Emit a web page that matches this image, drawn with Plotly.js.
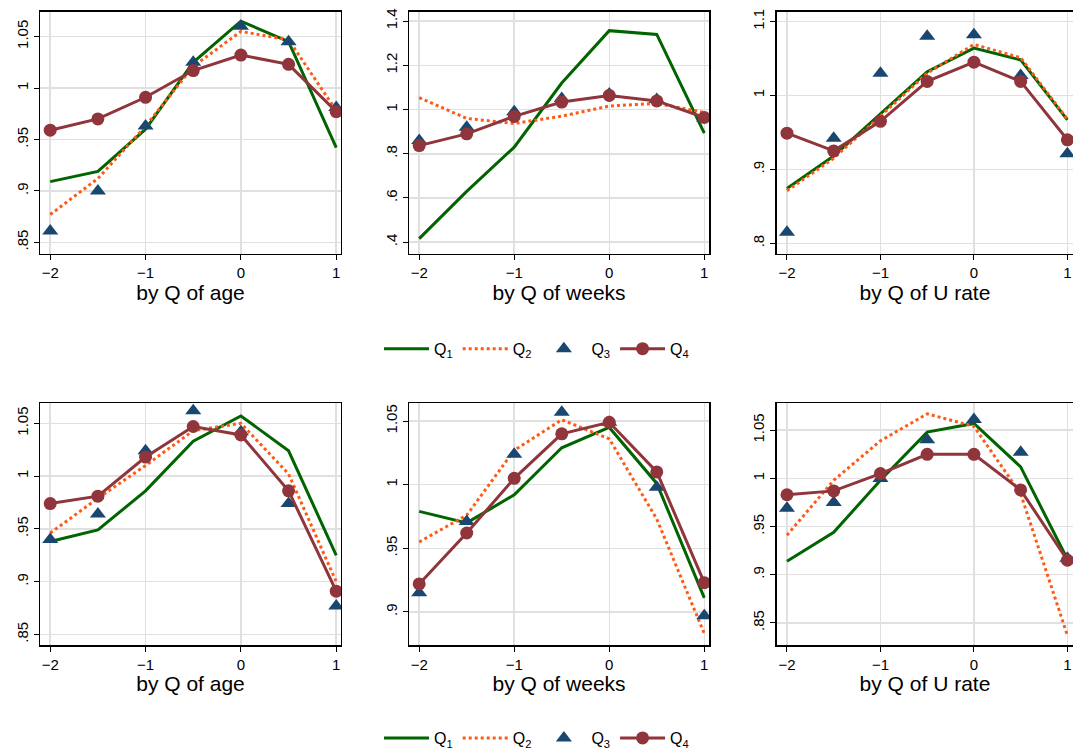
<!DOCTYPE html>
<html><head><meta charset="utf-8">
<script src="https://cdn.plot.ly/plotly-3.0.1.min.js"></script>
<style>body{margin:0;background:#fff}#c{width:1073px;height:755px}</style>
</head><body><div id="c"></div>
<script>
const xs = [-2, -1.5, -1, -0.5, 0, 0.5, 1];
const seriesNames = ['Q<sub>1</sub>', 'Q<sub>2</sub>', 'Q<sub>3</sub>', 'Q<sub>4</sub>'];
const panelTitles = ['by Q of age', 'by Q of weeks', 'by Q of U rate', 'by Q of age', 'by Q of weeks', 'by Q of U rate'];

// top: age
const ageTopQ1 = [0.909, 0.919, 0.960, 1.025, 1.065, 1.045, 0.942];
const ageTopQ2 = [0.877, 0.912, 0.963, 1.021, 1.055, 1.047, 0.978];
const ageTopQ3 = [0.861, 0.900, 0.963, 1.025, 1.060, 1.045, 0.981];
const ageTopQ4 = [0.959, 0.970, 0.991, 1.017, 1.032, 1.023, 0.977];
// top: weeks
const wkTopQ1 = [0.416, 0.63, 0.83, 1.12, 1.357, 1.34, 0.893];
const wkTopQ2 = [1.054, 0.96, 0.937, 0.97, 1.016, 1.028, 0.987];
const wkTopQ3 = [0.86, 0.92, 0.99, 1.05, 1.07, 1.045, 0.96];
const wkTopQ4 = [0.837, 0.89, 0.969, 1.034, 1.064, 1.039, 0.964];
// top: U rate
const urTopQ1 = [0.874, 0.918, 0.975, 1.032, 1.064, 1.048, 0.967];
const urTopQ2 = [0.871, 0.915, 0.972, 1.030, 1.069, 1.051, 0.968];
const urTopQ3 = [0.815, 0.942, 1.030, 1.080, 1.082, 1.027, 0.921];
const urTopQ4 = [0.949, 0.925, 0.965, 1.019, 1.045, 1.019, 0.940];
// bottom: age
const ageBotQ1 = [0.938, 0.949, 0.986, 1.033, 1.057, 1.024, 0.925];
const ageBotQ2 = [0.946, 0.979, 1.010, 1.043, 1.050, 1.002, 0.900];
const ageBotQ3 = [0.940, 0.964, 1.024, 1.062, 1.042, 0.974, 0.877];
const ageBotQ4 = [0.974, 0.981, 1.018, 1.047, 1.039, 0.986, 0.891];
// bottom: weeks
const wkBotQ1 = [0.979, 0.970, 0.992, 1.029, 1.045, 1.001, 0.911];
const wkBotQ2 = [0.955, 0.976, 1.027, 1.051, 1.036, 0.973, 0.883];
const wkBotQ3 = [0.915, 0.971, 1.024, 1.057, 1.049, 0.998, 0.897];
const wkBotQ4 = [0.922, 0.962, 1.005, 1.040, 1.049, 1.010, 0.923];
// bottom: U rate
const urBotQ1 = [0.914, 0.944, 0.998, 1.048, 1.057, 1.012, 0.916];
const urBotQ2 = [0.941, 0.998, 1.039, 1.067, 1.054, 0.984, 0.837];
const urBotQ3 = [0.969, 0.975, 1.000, 1.040, 1.061, 1.027, 0.917];
const urBotQ4 = [0.983, 0.987, 1.005, 1.025, 1.025, 0.988, 0.915];

const panels = [
  [ageTopQ1, ageTopQ2, ageTopQ3, ageTopQ4],
  [wkTopQ1, wkTopQ2, wkTopQ3, wkTopQ4],
  [urTopQ1, urTopQ2, urTopQ3, urTopQ4],
  [ageBotQ1, ageBotQ2, ageBotQ3, ageBotQ4],
  [wkBotQ1, wkBotQ2, wkBotQ3, wkBotQ4],
  [urBotQ1, urBotQ2, urBotQ3, urBotQ4]
];
const yTicks = [
  [[0.85,0.9,0.95,1,1.05],['.85','.9','.95','1','1.05']],
  [[0.4,0.6,0.8,1,1.2,1.4],['.4','.6','.8','1','1.2','1.4']],
  [[0.8,0.9,1,1.1],['.8','.9','1','1.1']],
  [[0.85,0.9,0.95,1,1.05],['.85','.9','.95','1','1.05']],
  [[0.9,0.95,1,1.05],['.9','.95','1','1.05']],
  [[0.85,0.9,0.95,1,1.05],['.85','.9','.95','1','1.05']]
];
const yRanges = [[0.839,1.074],[0.348,1.442],[0.786,1.113],[0.84,1.069],[0.874,1.064],[0.827,1.078]];
const xDom = [[0.0373,0.3178],[0.3812,0.6608],[0.7241,1.0]];
const yDom = [[0.6609,0.9841],[0.1377,0.4609]];
const xRanges = [[-2.107,1.05],[-2.107,1.05],[-2.107,1.06]];

const styles = [
  {mode:'lines', line:{color:'#006400', width:3}},
  {mode:'lines', line:{color:'#ff5a14', width:3, dash:'dot'}},
  {mode:'markers', marker:{symbol:'triangle-up', color:'#1a476f', size:14}},
  {mode:'lines+markers', line:{color:'#90353b', width:3}, marker:{symbol:'circle', color:'#90353b', size:13}}
];

const data = [];
const legFont = {size:16, family:'Liberation Sans, Arial, sans-serif'};
const layout = {
  width:1073, height:755, margin:{l:0,r:0,t:0,b:0},
  paper_bgcolor:'#fff', plot_bgcolor:'#fff',
  font:{family:'Liberation Sans, Arial, sans-serif', color:'#000', size:15},
  showlegend:true,
  legend:{orientation:'h', x:0.5, xanchor:'center', y:1-352/755, yanchor:'middle', font:legFont, traceorder:'normal', itemwidth:45},
  legend2:{orientation:'h', x:0.5, xanchor:'center', y:1-745/755, yanchor:'middle', font:legFont, traceorder:'normal', itemwidth:45}
};
panels.forEach((p, i) => {
  const row = i < 3 ? 0 : 1, col = i % 3;
  const n = i + 1;
  const xa = 'x' + (n === 1 ? '' : n), ya = 'y' + (n === 1 ? '' : n);
  p.forEach((vals, s) => {
    const showL = (i === 0 || i === 3);
    data.push(Object.assign({
      x: xs, y: vals, xaxis: xa, yaxis: ya, name: seriesNames[s],
      showlegend: showL, legend: row === 0 ? 'legend' : 'legend2', hoverinfo:'skip'
    }, JSON.parse(JSON.stringify(styles[s]))));
  });
  layout['xaxis' + (n === 1 ? '' : n)] = {
    domain: xDom[col], anchor: ya, range: xRanges[col],
    tickvals:[-2,-1,0,1], ticktext:['\u22122','\u22121','0','1'],
    ticks:'outside', ticklen:5, tickcolor:'#000', showline:true, mirror:true, linecolor:'#000', linewidth:1.5,
    showgrid:true, gridcolor:'#e0e0e0', gridwidth:1.5, zeroline:false,
    tickfont:{size:15}, title:{text:panelTitles[i], font:{size:21}, standoff:4}
  };
  layout['yaxis' + (n === 1 ? '' : n)] = {
    domain: yDom[row], anchor: xa, range: yRanges[i],
    tickvals: yTicks[i][0], ticktext: yTicks[i][1], tickangle:-90,
    ticks:'outside', ticklen:5, tickcolor:'#000', showline:true, mirror:true, linecolor:'#000', linewidth:1.5,
    showgrid:true, gridcolor:'#e0e0e0', gridwidth:1.5, zeroline:false, tickfont:{size:15}
  };
});
Plotly.newPlot('c', data, layout, {displayModeBar:false, staticPlot:true});
</script></body></html>
